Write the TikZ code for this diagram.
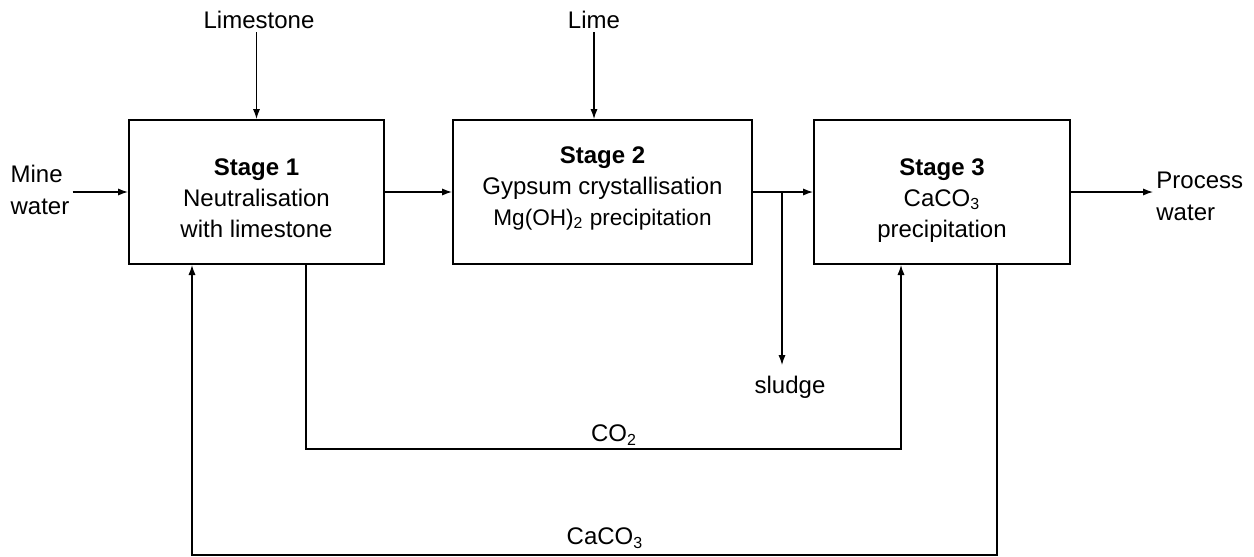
\documentclass[tikz,border=0pt]{standalone}
\usepackage{fontspec}
\setmainfont{Liberation Sans}
\usetikzlibrary{arrows.meta}

\begin{document}
\begin{tikzpicture}[x=0.5pt,y=-0.5pt,
  stagebox/.style={draw, line width=1pt, minimum height=72pt, align=center, inner sep=0pt, font=\fontsize{12}{15.5}\selectfont},
  txt/.style={draw=none, align=left, inner sep=1.5pt, font=\fontsize{12}{16}\selectfont},
  flow/.style={line width=0.6pt, -{Latex[length=5pt,width=3.6pt]}},
  pipe/.style={line width=0.6pt}]
\useasboundingbox (0,0) rectangle (1254,557);

\node[stagebox, minimum width=127.5pt] (box1) at (256.5,192) {\rule{0pt}{14.6pt}\textbf{Stage 1}\\Neutralisation\\with limestone};
\node[stagebox, minimum width=149.5pt] (box2) at (602.5,192) {\textbf{Stage 2}\\Gypsum crystallisation\\{\fontsize{11.3}{15}\selectfont Mg(OH)\textsubscript{2} precipitation}\\[-9.5pt]};
\node[stagebox, minimum width=128pt] (box3) at (942,192) {\rule{0pt}{16.6pt}\textbf{Stage 3}\\CaCO\textsubscript{3}\\precipitation};

\node[txt] (mine) at (40,190) {Mine\\water};
\node[txt, anchor=west] (process) at (1153,196) {Process\\water};
\node[txt] (limestone) at (259,20) {Limestone};
\node[txt] (lime) at (594,20) {Lime};
\node[txt] (sludge) at (790,387) {sludge};
\node[txt] (co2) at (614,435) {CO\textsubscript{2}};
\node[txt] (caco3) at (605,538) {CaCO\textsubscript{3}};

\coordinate (split) at (782,192);
\coordinate (co2a) at (306,449);
\coordinate (co2b) at (901,449);
\coordinate (caco3a) at (997,555);
\coordinate (caco3b) at (192,555);

\draw[flow] (mine.east |- box1.west) -- (box1.west);
\draw[flow] (box1.east) -- (box2.west);
\draw[pipe] (box2.east) -- (split);
\draw[flow] (split) -- (box3.west);
\draw[flow] (box3.east) -- (box3.east -| process.west);
\draw[flow] (limestone.south -| box1.north) -- (box1.north);
\draw[flow] (lime.south) -- (lime.south |- box2.north);
\draw[flow] (split) -- (split |- 0,365);
\draw[flow] (box1.south -| co2a) -- (co2a) -- (co2b) -- (box3.south -| co2b);
\draw[flow] (box3.south -| caco3a) -- (caco3a) -- (caco3b) -- (box1.south -| caco3b);
\end{tikzpicture}
\end{document}
